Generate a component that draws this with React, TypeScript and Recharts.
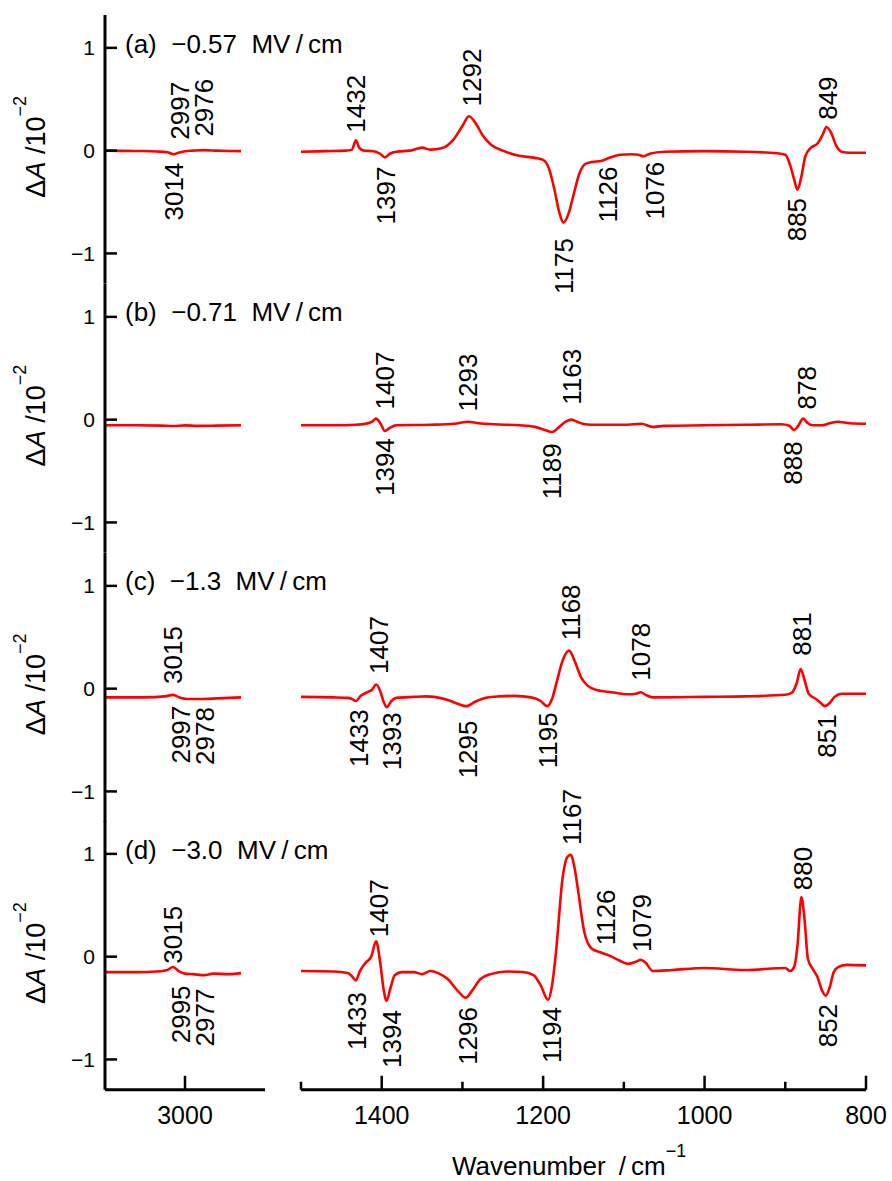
import React from 'react';
import { LineChart, Line, XAxis, YAxis, ReferenceDot } from 'recharts';

const FONT = '"Liberation Sans", Arial, Helvetica, sans-serif';
const RED = '#ff0000';

// layout of the stacked panels
const PANEL_TOP = 15;
const PANEL_H = 268.75;
const Y_MIN = -1.295;
const Y_MAX = 1.32;
const UNIT = PANEL_H / (Y_MAX - Y_MIN);
const AXIS_H = 60;

const HI_TICKS = [1500, 1400, 1300, 1200, 1100, 1000, 900, 800];
const LO_TICKS = [3000];
const Y_TICKS = [-1, 0, 1];

// (a) -0.57 MV/cm
const waveA_lo = [3100, 3060, 3035, 3022, 3014, 3008, 3000, 2990, 2976, 2960, 2945, 2930];
const absA_lo = [0, -0.003, -0.008, -0.015, -0.035, -0.02, -0.005, 0, 0.005, 0, -0.003, -0.005];
const waveA_hi = [1500, 1470, 1445, 1437, 1432, 1428, 1422, 1410, 1402, 1396, 1390, 1382, 1365, 1350, 1340, 1325, 1312, 1300, 1292, 1283, 1275, 1265, 1250, 1230, 1210, 1200, 1193, 1186, 1180, 1175, 1168, 1162, 1155, 1148, 1140, 1128, 1118, 1105, 1090, 1082, 1076, 1068, 1050, 1000, 950, 910, 900, 894, 889, 885, 880, 875, 868, 860, 854, 849, 843, 837, 830, 820, 800];
const absA_hi = [-0.01, -0.005, 0, 0.01, 0.1, 0.03, 0, -0.005, -0.03, -0.065, -0.03, -0.01, 0, 0.03, 0.01, 0.025, 0.1, 0.24, 0.335, 0.26, 0.15, 0.06, 0, -0.05, -0.07, -0.09, -0.17, -0.38, -0.6, -0.7, -0.6, -0.42, -0.22, -0.13, -0.11, -0.1, -0.07, -0.04, -0.035, -0.04, -0.055, -0.03, -0.01, -0.005, -0.01, -0.025, -0.04, -0.14, -0.28, -0.38, -0.25, -0.05, 0.03, 0.07, 0.15, 0.23, 0.17, 0.05, -0.01, -0.02, -0.02];

// (b) -0.71 MV/cm
const waveB_lo = [3100, 3060, 3030, 3014, 3000, 2985, 2960, 2930];
const absB_lo = [-0.055, -0.055, -0.058, -0.062, -0.056, -0.06, -0.058, -0.055];
const waveB_hi = [1500, 1460, 1432, 1420, 1412, 1407, 1402, 1396, 1390, 1382, 1340, 1310, 1293, 1280, 1260, 1230, 1210, 1198, 1189, 1180, 1172, 1165, 1158, 1148, 1135, 1100, 1078, 1065, 1050, 1000, 950, 905, 895, 889, 884, 878, 872, 866, 855, 845, 835, 820, 800];
const absB_hi = [-0.055, -0.055, -0.05, -0.04, -0.02, 0.01, -0.03, -0.11, -0.08, -0.055, -0.05, -0.04, -0.02, -0.035, -0.045, -0.055, -0.07, -0.1, -0.12, -0.07, -0.02, 0, -0.02, -0.045, -0.05, -0.05, -0.04, -0.07, -0.06, -0.055, -0.05, -0.045, -0.06, -0.1, -0.06, 0.01, -0.035, -0.055, -0.055, -0.035, -0.02, -0.035, -0.04];

// (c) -1.3 MV/cm
const waveC_lo = [3100, 3050, 3025, 3015, 3007, 2997, 2980, 2960, 2930];
const absC_lo = [-0.085, -0.085, -0.075, -0.06, -0.085, -0.1, -0.1, -0.095, -0.085];
const waveC_hi = [1500, 1460, 1442, 1437, 1432, 1426, 1418, 1412, 1407, 1402, 1398, 1394, 1388, 1382, 1360, 1345, 1335, 1318, 1305, 1295, 1285, 1272, 1255, 1235, 1215, 1203, 1195, 1189, 1183, 1176, 1168, 1160, 1153, 1145, 1135, 1115, 1095, 1085, 1079, 1073, 1064, 1000, 950, 900, 892, 886, 881, 876, 871, 862, 856, 851, 845, 839, 830, 800];
const absC_hi = [-0.08, -0.085, -0.09, -0.1, -0.12, -0.07, -0.035, -0.01, 0.04, -0.02, -0.12, -0.18, -0.12, -0.09, -0.08, -0.075, -0.08, -0.11, -0.15, -0.17, -0.13, -0.09, -0.075, -0.07, -0.085, -0.12, -0.17, -0.1, 0.07, 0.27, 0.37, 0.25, 0.11, 0.03, -0.01, -0.035, -0.055, -0.05, -0.035, -0.06, -0.085, -0.08, -0.075, -0.06, -0.04, 0.05, 0.19, 0.08, -0.05, -0.1, -0.14, -0.17, -0.14, -0.08, -0.05, -0.05];

// (d) -3.0 MV/cm
const waveD_lo = [3100, 3060, 3035, 3022, 3015, 3008, 3000, 2990, 2976, 2965, 2945, 2930];
const absD_lo = [-0.15, -0.15, -0.145, -0.13, -0.1, -0.14, -0.165, -0.17, -0.18, -0.165, -0.17, -0.16];
const waveD_hi = [1500, 1460, 1442, 1437, 1432, 1427, 1420, 1413, 1407, 1402, 1398, 1394, 1389, 1384, 1375, 1360, 1350, 1340, 1330, 1318, 1305, 1296, 1288, 1278, 1265, 1245, 1225, 1212, 1203, 1194, 1189, 1184, 1176, 1170, 1166, 1161, 1157, 1149, 1140, 1130, 1118, 1105, 1095, 1085, 1079, 1073, 1064, 1040, 1000, 950, 900, 894, 889, 885, 880, 876, 872, 866, 860, 855, 850, 845, 840, 834, 824, 800];
const absD_hi = [-0.14, -0.145, -0.16, -0.19, -0.23, -0.14, -0.06, 0, 0.15, -0.05, -0.3, -0.43, -0.3, -0.18, -0.15, -0.15, -0.17, -0.14, -0.16, -0.22, -0.34, -0.4, -0.33, -0.22, -0.17, -0.145, -0.15, -0.18, -0.28, -0.42, -0.28, 0.05, 0.76, 0.97, 0.99, 0.86, 0.66, 0.24, 0.08, 0.045, 0.01, -0.04, -0.07, -0.05, -0.03, -0.06, -0.14, -0.13, -0.11, -0.13, -0.11, -0.14, -0.1, 0.1, 0.58, 0.35, -0.02, -0.12, -0.2, -0.32, -0.38, -0.3, -0.15, -0.1, -0.08, -0.085];

// peak annotations: [label, wavenumber position, absorbance anchor, side]
type Peak = [string, number, number, 'up' | 'down'];

const peaksA_lo: Peak[] = [['2997', 3007, 0.107, 'up'], ['2976', 2977, 0.137, 'up'], ['3014', 3014, -0.117, 'down']];
const peaksA_hi: Peak[] = [
  ['1432', 1432, 0.175, 'up'], ['1397', 1395, -0.155, 'down'], ['1292', 1289, 0.43, 'up'],
  ['1175', 1174, -0.85, 'down'], ['1126', 1120, -0.155, 'down'], ['1076', 1062, -0.107, 'down'],
  ['885', 886, -0.46, 'down'], ['849', 847, 0.3, 'up'],
];
const peaksB_lo: Peak[] = [];
const peaksB_hi: Peak[] = [
  ['1407', 1396, 0.1, 'up'], ['1394', 1396, -0.18, 'down'], ['1293', 1293, 0.08, 'up'],
  ['1189', 1190, -0.23, 'down'], ['1163', 1165, 0.146, 'up'], ['888', 891, -0.21, 'down'], ['878', 874, 0.1, 'up'],
];
const peaksC_lo: Peak[] = [['3015', 3016, 0.046, 'up'], ['2997', 3006, -0.166, 'down'], ['2978', 2975, -0.18, 'down']];
const peaksC_hi: Peak[] = [
  ['1433', 1429, -0.2, 'down'], ['1407', 1404, 0.143, 'up'], ['1393', 1388, -0.23, 'down'],
  ['1295', 1294, -0.31, 'down'], ['1195', 1195, -0.23, 'down'], ['1168', 1166, 0.47, 'up'],
  ['1078', 1079, 0.078, 'up'], ['881', 880, 0.32, 'up'], ['851', 849, -0.25, 'down'],
];
const peaksD_lo: Peak[] = [['3015', 3016, -0.068, 'up'], ['2995', 3006, -0.28, 'down'], ['2977', 2976, -0.31, 'down']];
const peaksD_hi: Peak[] = [
  ['1433', 1431, -0.345, 'down'], ['1407', 1404, 0.19, 'up'], ['1394', 1388, -0.52, 'down'],
  ['1296', 1294, -0.49, 'down'], ['1194', 1190, -0.49, 'down'], ['1167', 1165, 1.086, 'up'],
  ['1126', 1122, 0.11, 'up'], ['1079', 1078, 0.046, 'up'], ['880', 879, 0.647, 'up'], ['852', 848, -0.46, 'down'],
];

const titles = ['(a)', '(b)', '(c)', '(d)'];
const fields = ['−0.57', '−0.71', '−1.3', '−3.0'];

const zip = (w: number[], a: number[]) => w.map((x, i) => ({ w: x, v: a[i] }));

const panels = [
  { lo: zip(waveA_lo, absA_lo), hi: zip(waveA_hi, absA_hi), pLo: peaksA_lo, pHi: peaksA_hi },
  { lo: zip(waveB_lo, absB_lo), hi: zip(waveB_hi, absB_hi), pLo: peaksB_lo, pHi: peaksB_hi },
  { lo: zip(waveC_lo, absC_lo), hi: zip(waveC_hi, absC_hi), pLo: peaksC_lo, pHi: peaksC_hi },
  { lo: zip(waveD_lo, absD_lo), hi: zip(waveD_hi, absD_hi), pLo: peaksD_lo, pHi: peaksD_hi },
];

const XTick = (props: any) => {
  const { x, y, payload } = props;
  const major = payload.value % 200 === 0;
  return (
    <g>
      <line x1={x} x2={x} y1={y} y2={y - (major ? 14 : 8)} stroke="#000" strokeWidth={2.5} />
      {major && (
        <text x={x} y={y + 34} textAnchor="middle" fontSize={25} fontFamily={FONT} fill="#000">
          {payload.value}
        </text>
      )}
    </g>
  );
};

const YTick = (props: any) => {
  const { x, y, payload } = props;
  const v = payload.value;
  return (
    <g>
      <line x1={x} x2={x + 12} y1={y} y2={y} stroke="#000" strokeWidth={2.5} />
      <text x={x - 10} y={y} dy="0.36em" textAnchor="end" fontSize={21} fontFamily={FONT} fill="#000">
        {v < 0 ? `−${-v}` : v}
      </text>
    </g>
  );
};

const peakShape = (label: string, side: string) => (p: any) => (
  <text
    x={p.cx}
    y={p.cy}
    dy="0.36em"
    transform={`rotate(-90 ${p.cx} ${p.cy})`}
    textAnchor={side === 'up' ? 'start' : 'end'}
    fontSize={26}
    fontFamily={FONT}
    fill="#000"
  >
    {label}
  </text>
);

interface SegmentProps {
  data: { w: number; v: number }[];
  peaks: Peak[];
  domain: [number, number];
  ticks: number[];
  width: number;
  showY: boolean;
  bottom: boolean;
}

const Segment: React.FC<SegmentProps> = ({ data, peaks, domain, ticks, width, showY, bottom }) => (
  <LineChart
    width={width}
    height={bottom ? PANEL_H + AXIS_H : PANEL_H}
    data={data}
    margin={{ top: 0, right: 0, bottom: 0, left: 0 }}
  >
    <XAxis
      type="number"
      dataKey="w"
      domain={domain}
      reversed
      allowDataOverflow
      ticks={ticks}
      interval={0}
      hide={!bottom}
      height={AXIS_H}
      tickSize={0}
      tickMargin={0}
      tickLine={false}
      tick={XTick}
      axisLine={{ stroke: '#000', strokeWidth: 3 }}
    />
    <YAxis
      type="number"
      domain={[Y_MIN, Y_MAX]}
      allowDataOverflow
      ticks={Y_TICKS}
      interval={0}
      hide={!showY}
      width={105}
      tickSize={0}
      tickMargin={0}
      tickLine={false}
      tick={YTick}
      axisLine={{ stroke: '#000', strokeWidth: 3 }}
    />
    <Line
      type="monotone"
      dataKey="v"
      stroke={RED}
      strokeWidth={2.6}
      dot={false}
      activeDot={false}
      isAnimationActive={false}
    />
    {peaks.map(([label, x, y, side], i) => (
      <ReferenceDot key={i} x={x} y={y} r={0} shape={peakShape(label, side)} />
    ))}
  </LineChart>
);

const App: React.FC = () => {
  const zero = (i: number) => PANEL_TOP + i * PANEL_H + Y_MAX * UNIT;
  return (
    <div style={{ position: 'absolute', left: 0, top: 0, width: 892, height: 1181, background: '#fff' }}>
      <style>{'.recharts-surface, .recharts-wrapper { overflow: visible !important; }'}</style>
      {panels.map((p, i) => {
        const bottom = i === panels.length - 1;
        const top = PANEL_TOP + i * PANEL_H;
        return (
          <React.Fragment key={i}>
            <div style={{ position: 'absolute', left: 0, top }}>
              <Segment data={p.lo} peaks={p.pLo} domain={[2900, 3100]} ticks={LO_TICKS} width={265} showY bottom={bottom} />
            </div>
            <div style={{ position: 'absolute', left: 301, top }}>
              <Segment data={p.hi} peaks={p.pHi} domain={[800, 1500]} ticks={HI_TICKS} width={565} showY={false} bottom={bottom} />
            </div>
          </React.Fragment>
        );
      })}
      <svg
        width={892}
        height={1181}
        style={{ position: 'absolute', left: 0, top: 0, pointerEvents: 'none' }}
        fontFamily={FONT}
      >
        {panels.map((_, i) => {
          const z = zero(i);
          return (
            <g key={i}>
              <text x={125} y={z - 98} fontSize={26} fill="#000">
                {`${titles[i]}\u00a0\u00a0${fields[i]}\u00a0\u00a0MV\u2009/\u2009cm`}
              </text>
              <text x={45} y={z + 47} transform={`rotate(-90 45 ${z + 47})`} fontSize={27} fill="#000">
                <tspan>Δ</tspan>
                <tspan fontStyle="italic">A</tspan>
                <tspan>{'\u00a0/10'}</tspan>
                <tspan dy={-19} fontSize={18}>−2</tspan>
              </text>
            </g>
          );
        })}
        <text x={452} y={1175} fontSize={26} fill="#000">
          <tspan>{'Wavenumber\u2002/\u2009cm'}</tspan>
          <tspan dy={-18} fontSize={18}>−1</tspan>
        </text>
      </svg>
    </div>
  );
};

export default App;
